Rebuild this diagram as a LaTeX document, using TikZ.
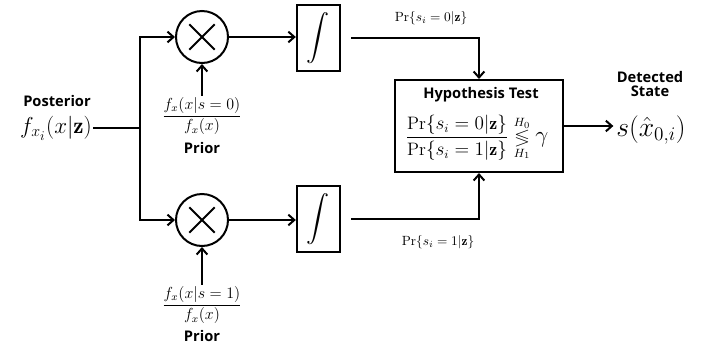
\documentclass[tikz,border=0pt]{standalone}
\usepackage{amsmath}
\usepackage{amssymb}
\usepackage{fontspec}
\setsansfont{Open Sans}
\usetikzlibrary{arrows.meta}

\tikzset{
  wire/.style={line width=1.5pt},
  arr/.style={wire, -{Straight Barb[length=4.5pt,width=8pt,line width=1.5pt]}},
  mult/.style={circle, draw, line width=1.5pt, minimum size=39pt, inner sep=0pt,
    path picture={\draw[line width=1.5pt] (path picture bounding box.center) +(-9.5pt,-9.5pt) -- +(9.5pt,9.5pt)
      (path picture bounding box.center) +(-9.5pt,9.5pt) -- +(9.5pt,-9.5pt);}},
  intbox/.style={rectangle, draw, line width=1.5pt, minimum width=32.5pt, minimum height=50pt, inner sep=0pt},
  testbox/.style={rectangle, draw, line width=1.5pt, minimum width=126pt, minimum height=69pt, inner sep=0pt},
  bold label/.style={font=\sffamily\bfseries\fontsize{11}{12.5}\selectfont, align=center, inner sep=1pt},
}

\begin{document}
\begin{tikzpicture}[x=0.75pt,y=0.75pt,yscale=-1,xscale=1]
\useasboundingbox (0,0) rectangle (701,351);

% Input
\node [bold label] (post) at (57,101) {Posterior};
\node [font=\LARGE, inner sep=1pt] (fin) at (56,128) {$f_{x_i}(x|\mathbf{z})$};
\coordinate (split) at (140,128);

% Multipliers
\node [mult] (mul0) at (202,37) {};
\node [mult] (mul1) at (202,220) {};

% Priors
\node [font=\fontsize{11.5}{13}\selectfont, inner sep=1pt] (frac0) at (202,116) {$\dfrac{f_x(x|s=0)}{f_x(x)}$};
\node [bold label] (prior0) at (202,148) {Prior};
\node [font=\fontsize{11.5}{13}\selectfont, inner sep=1pt] (frac1) at (202,305) {$\dfrac{f_x(x|s=1)}{f_x(x)}$};
\node [bold label] (prior1) at (202,336) {Prior};

% Integrators
\node [intbox] (int0) at (318.5,38) {\LARGE $\displaystyle\int$};
\node [intbox] (int1) at (318.5,219) {\LARGE $\displaystyle\int$};

% Hypothesis test
\node [testbox] (hyp) at (479,126) {};
\node [bold label, inner sep=0pt] (hyptitle) at (481,95) {Hypothesis Test};
\node [font=\fontsize{13.5}{15}\selectfont, inner sep=0pt] (ratio) at (477,138)
  {$\dfrac{\Pr\{s_i=0|\mathbf{z}\}}{\Pr\{s_i=1|\mathbf{z}\}}
   \underset{H_1}{\overset{H_0}{\lessgtr}} \text{\LARGE$\gamma$}$};

% Probability labels
\node (pr0) at (431,18) {$\Pr\{s_i=0|\mathbf{z}\}$};
\node (pr1) at (438,242) {$\Pr\{s_i=1|\mathbf{z}\}$};

% Output
\node [bold label, inner sep=0pt] (det) at (650,84) {Detected\\[-2pt]State};
\node [font=\huge, inner sep=0pt] (out) at (651,130) {$s(\hat{x}_{0,i})$};

% Connections
\draw [wire] (fin.east) -- (split);
\draw [arr] (split) |- (mul0.west);
\draw [arr] (split) |- (mul1.west);
\draw [arr] (mul0) -- (int0.west |- mul0);
\draw [arr] (mul1) -- (int1.west |- mul1);
\draw [arr] (frac0.north) -- (mul0.south);
\draw [arr] (frac1.north) -- (mul1.south);
\draw [arr, shorten <=7.5pt] (int0) -| (hyp);
\draw [arr, shorten <=7.5pt] (int1) -| (hyp);
\draw [arr] (hyp.east) -- ([xshift=-2pt]hyp.east -| out.west);

\end{tikzpicture}
\end{document}
